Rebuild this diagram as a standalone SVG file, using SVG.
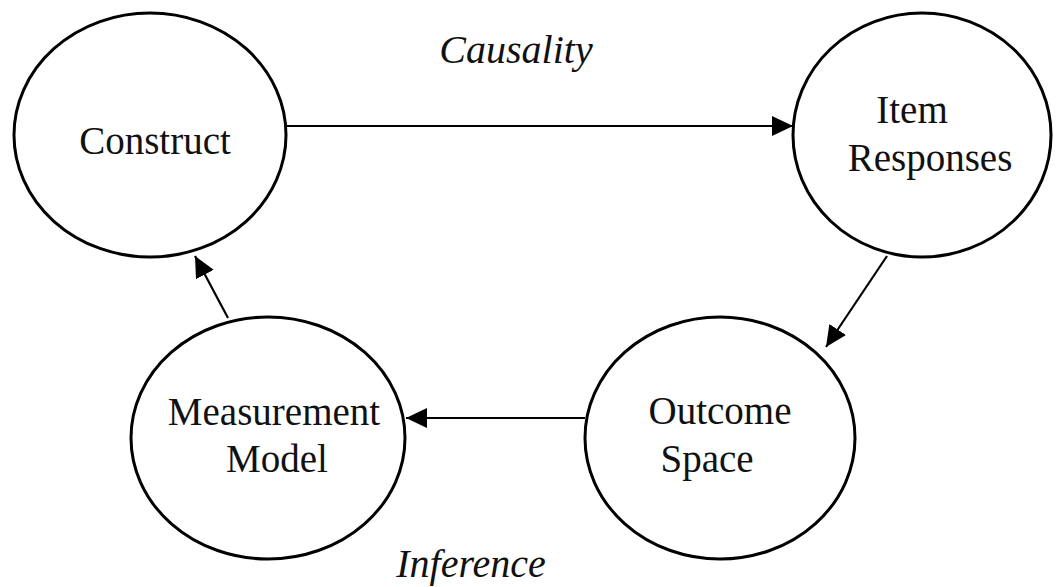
<svg xmlns="http://www.w3.org/2000/svg" width="1057" height="587" viewBox="0 0 1057 587">
<style>
.node ellipse{fill:#fff;stroke:#000;stroke-width:3}
.lbl{font-family:"Liberation Serif","Times New Roman",serif;font-size:39px;fill:#111;text-anchor:middle}
.edge-lbl{font-family:"Liberation Serif","Times New Roman",serif;font-size:40px;font-style:italic;fill:#111;text-anchor:middle}
.conn line{stroke:#000;stroke-width:2.2;fill:none}
</style>
<defs>
<marker id="ah" markerUnits="userSpaceOnUse" markerWidth="24" markerHeight="22" refX="21" refY="10" orient="auto">
<path d="M0,0 L21,10 L0,20 Z" fill="#000"/>
</marker>
</defs>
<rect width="1057" height="587" fill="#fff"/>
<g id="connectors" class="conn">
<line x1="287" y1="126" x2="793" y2="126" marker-end="url(#ah)"/>
<line x1="887" y1="256" x2="826" y2="347" marker-end="url(#ah)"/>
<line x1="585" y1="418" x2="406" y2="418" marker-end="url(#ah)"/>
<line x1="228" y1="318" x2="195" y2="256" marker-end="url(#ah)"/>
</g>
<g id="construct" class="node">
<ellipse cx="150" cy="135" rx="136" ry="122"/>
<text class="lbl" x="155" y="154">Construct</text>
</g>
<g id="item-responses" class="node">
<ellipse cx="922" cy="135" rx="129" ry="122"/>
<text class="lbl" x="912" y="123">Item</text>
<text class="lbl" x="930" y="171">Responses</text>
</g>
<g id="outcome-space" class="node">
<ellipse cx="720" cy="438" rx="135" ry="121"/>
<text class="lbl" x="720" y="424">Outcome</text>
<text class="lbl" x="707" y="472">Space</text>
</g>
<g id="measurement-model" class="node">
<ellipse cx="268" cy="438" rx="137" ry="121"/>
<text class="lbl" x="274" y="425">Measurement</text>
<text class="lbl" x="277" y="472">Model</text>
</g>
<g id="labels">
<text class="edge-lbl" x="516" y="63">Causality</text>
<text class="edge-lbl" x="471" y="577">Inference</text>
</g>
</svg>
